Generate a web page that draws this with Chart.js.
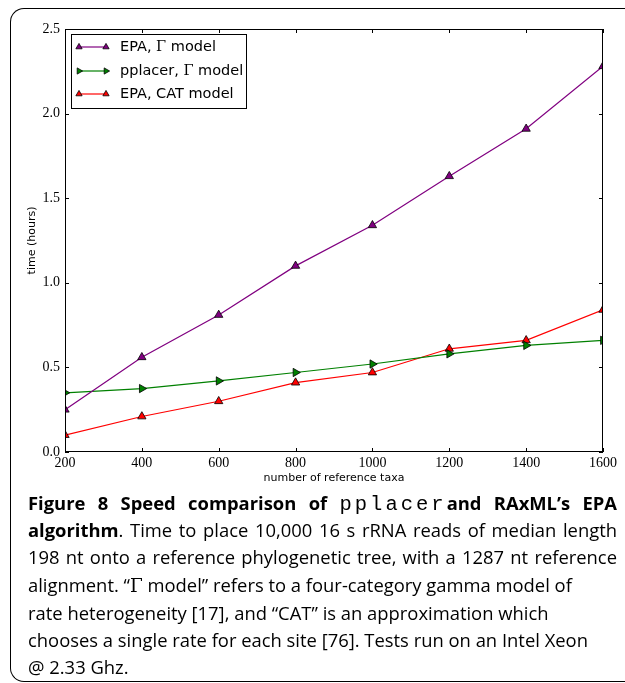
<!DOCTYPE html>
<html>
<head>
<meta charset="utf-8">
<script src="https://cdn.jsdelivr.net/npm/chart.js@4/dist/chart.umd.min.js"></script>
<style>
  body { margin: 0; background: #fff; }
  #page { position: relative; width: 625px; height: 683px; overflow: hidden; }
  #frame { position: absolute; left: 10px; top: 8px; width: 620px; height: 672px;
           border-left: 1px solid #000; border-top: 1px solid #000; border-bottom: 1px solid #000;
           border-top-left-radius: 14px; border-bottom-left-radius: 14px; }
  #wrap { position: absolute; left: 0; top: 0; width: 625px; height: 490px; }
  #caption { position: absolute; left: 28px; top: 489px; width: 589px; font-family: "Open Sans", sans-serif;
             font-size: 18.4px; line-height: 27.2px; color: #000; }
  #caption div { white-space: nowrap; }
  #caption .j { text-align: justify; text-align-last: justify; white-space: normal; height: 27.2px; }
  #caption b { font-weight: bold; }
  #caption code { font-family: "Liberation Mono", monospace; font-weight: normal; font-size: 20.5px; letter-spacing: 3px; }
  .g { font-family: "DejaVu Serif", serif; }
</style>
</head>
<body>
<div id="page">
  <div id="frame"></div>
  <div id="wrap"><canvas id="grafico"></canvas></div>
  <div id="caption">
    <div class="j"><b>Figure 8 Speed comparison of <code>pplacer</code>and RAxML’s EPA</b></div>
    <div class="j"><b>algorithm</b>. Time to place 10,000 16 s rRNA reads of median length</div>
    <div class="j">198 nt onto a reference phylogenetic tree, with a 1287 nt reference</div>
    <div>alignment. “<span class="g">Γ</span> model” refers to a four-category gamma model of</div>
    <div>rate heterogeneity [17], and “CAT” is an approximation which</div>
    <div>chooses a single rate for each site [76]. Tests run on an Intel Xeon</div>
    <div>@ 2.33 Ghz.</div>
  </div>
</div>
<script>
const taxa = [200, 400, 600, 800, 1000, 1200, 1400, 1600];
const epaGamma = [0.25, 0.56, 0.81, 1.10, 1.34, 1.63, 1.91, 2.28];
const pplacerGamma = [0.35, 0.375, 0.42, 0.47, 0.52, 0.58, 0.63, 0.66];
const epaCat = [0.10, 0.21, 0.30, 0.41, 0.47, 0.61, 0.66, 0.84];
const xTicks = [200, 400, 600, 800, 1000, 1200, 1400, 1600];
const yTicks = [0, 0.5, 1.0, 1.5, 2.0, 2.5];

const toPts = arr => arr.map((v, i) => ({ x: taxa[i], y: v }));

function serie(label, data, color, rot) {
  return {
    label: label,
    data: toPts(data),
    borderColor: color,
    backgroundColor: color,
    borderWidth: 1.2,
    pointStyle: 'triangle',
    rotation: rot,
    pointRadius: 4.8,
    pointBorderColor: '#000',
    pointBorderWidth: 0.8,
    tension: 0,
    clip: 0
  };
}

// frame, inward ticks and the legend box
const decor = {
  id: 'decor',
  afterDraw(chart) {
    const c = chart.ctx;
    const a = chart.chartArea;
    const xs = chart.scales.x, ys = chart.scales.y;
    c.save();
    c.strokeStyle = '#000';
    c.lineWidth = 1;
    c.strokeRect(a.left + 0.5, a.top + 0.5, a.right - a.left - 1, a.bottom - a.top - 1);
    c.beginPath();
    xTicks.forEach(t => {
      const px = Math.round(xs.getPixelForValue(t)) + 0.5;
      c.moveTo(px, a.bottom); c.lineTo(px, a.bottom - 4);
      c.moveTo(px, a.top); c.lineTo(px, a.top + 4);
    });
    yTicks.forEach(t => {
      const py = Math.round(ys.getPixelForValue(t)) + 0.5;
      c.moveTo(a.left, py); c.lineTo(a.left + 4, py);
      c.moveTo(a.right, py); c.lineTo(a.right - 4, py);
    });
    c.stroke();

    // legend
    const lx = 71, ly = 34, lw = 175, lh = 74;
    c.fillStyle = '#fff';
    c.fillRect(lx, ly, lw, lh);
    c.strokeRect(lx + 0.5, ly + 0.5, lw, lh);
    const rows = [47, 71, 94];
    chart.data.datasets.forEach((ds, i) => {
      const y = rows[i];
      c.strokeStyle = ds.borderColor;
      c.lineWidth = 1.2;
      c.beginPath(); c.moveTo(79, y); c.lineTo(106, y); c.stroke();
      [79, 106].forEach(x => {
        c.fillStyle = ds.backgroundColor;
        c.strokeStyle = '#000';
        c.lineWidth = 0.8;
        Chart.helpers.drawPoint(c, { pointStyle: 'triangle', rotation: ds.rotation, radius: 3.6, borderWidth: 0.8 }, x, y);
      });
      c.fillStyle = '#000';
      c.textBaseline = 'middle';
      let tx = 120;
      const parts = ds.label.split('Γ');
      parts.forEach((p, k) => {
        c.font = '14.5px "DejaVu Sans"';
        c.fillText(p, tx, y);
        tx += c.measureText(p).width;
        if (k < parts.length - 1) {
          c.font = '14.5px "DejaVu Serif"';
          c.fillText('Γ', tx, y);
          tx += c.measureText('Γ').width;
        }
      });
    });
    c.restore();
  }
};

const ctx = document.getElementById('grafico').getContext('2d');

const chart = new Chart(ctx, {
  type: 'line',
  data: {
    datasets: [
      serie('EPA, Γ model', epaGamma, '#800080', 0),
      serie('pplacer, Γ model', pplacerGamma, '#008000', 90),
      serie('EPA, CAT model', epaCat, '#ff0000', 0)
    ]
  },
  options: {
    animation: false,
    responsive: true,
    maintainAspectRatio: false,
    layout: { padding: { left: 0, right: 22, top: 29, bottom: 0 } },
    plugins: { legend: { display: false }, tooltip: { enabled: false } },
    scales: {
      x: {
        type: 'linear',
        min: 200,
        max: 1600,
        afterBuildTicks: s => { s.ticks = xTicks.map(v => ({ value: v })); },
        afterFit: s => { s.height = 38; },
        grid: { display: false, drawTicks: false },
        border: { display: false },
        ticks: { color: '#000', padding: 3, maxRotation: 0, callback: v => String(v),
                 font: { family: '"Liberation Serif"', size: 14 } },
        title: { display: true, text: 'number of reference taxa', color: '#000',
                 font: { family: '"DejaVu Sans"', size: 11 }, padding: { top: 0, bottom: 5 } }
      },
      y: {
        min: 0,
        max: 2.5,
        afterBuildTicks: s => { s.ticks = yTicks.map(v => ({ value: v })); },
        afterFit: s => { s.width = 65; },
        grid: { display: false, drawTicks: false },
        border: { display: false },
        ticks: { color: '#000', padding: 5, callback: v => v.toFixed(1),
                 font: { family: '"Liberation Serif"', size: 14 } },
        title: { display: true, text: 'time (hours)', color: '#000',
                 font: { family: '"DejaVu Sans"', size: 11 }, padding: { top: 26, bottom: 0 } }
      }
    }
  },
  plugins: [decor]
});
</script>
</body>
</html>
